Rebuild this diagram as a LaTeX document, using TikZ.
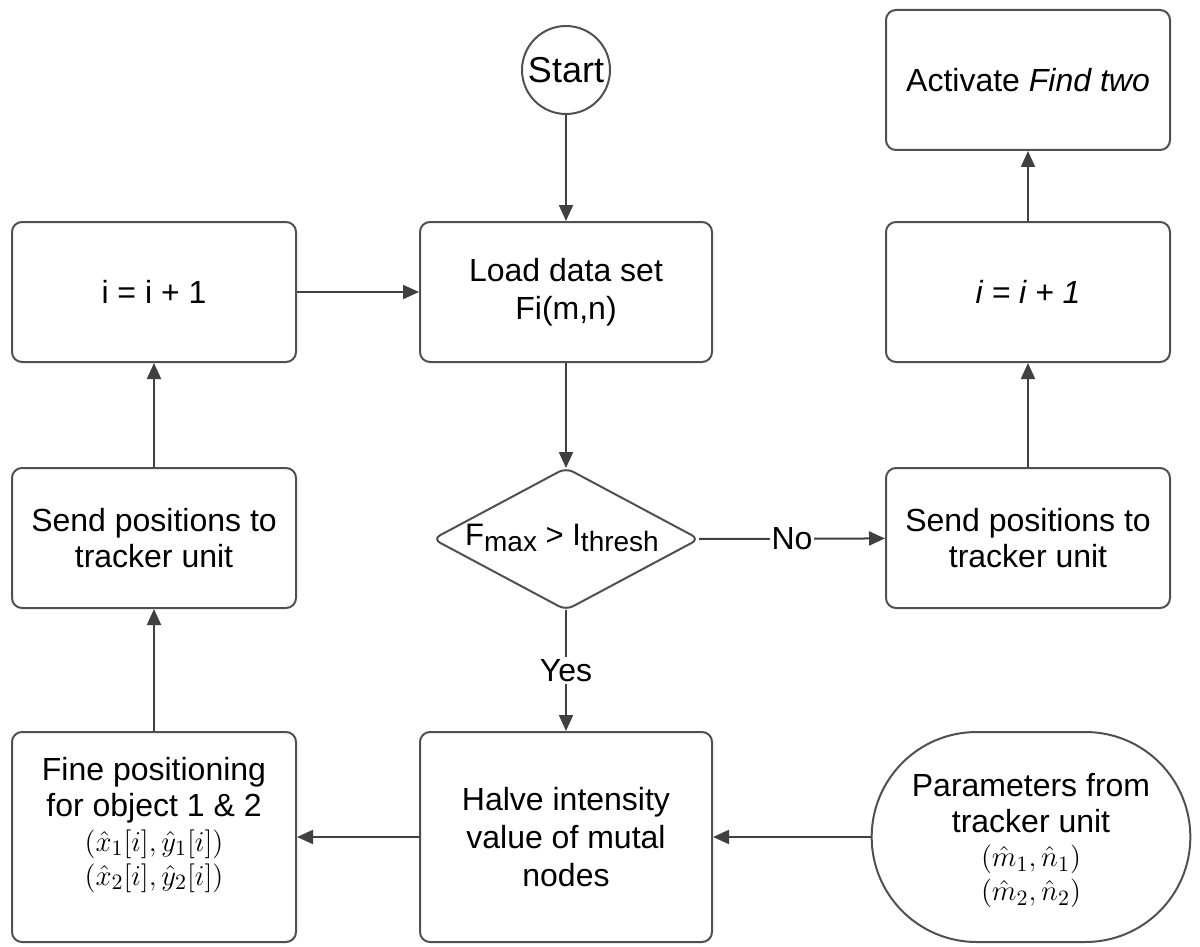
\documentclass[tikz,border=0pt]{standalone}
\usepackage{fontspec}
\setmainfont{Liberation Sans}
\usetikzlibrary{shapes.geometric,shapes.misc,arrows.meta}
\definecolor{edge}{HTML}{505050}
\definecolor{arr}{HTML}{404040}
\newcommand{\mfont}{\fontsize{15pt}{15pt}\selectfont}
\tikzset{
  box/.style={draw=edge, line width=1pt, rounded corners=5pt, fill=white,
    minimum width=142pt, minimum height=70pt, align=center, font=\fontsize{16pt}{18pt}\selectfont, inner sep=2pt},
  boxtext/.style={align=center, font=\fontsize{16pt}{18pt}\selectfont, inner sep=0pt},
  conn/.style={draw=arr, line width=1pt, -{Triangle[length=8pt,width=7pt]}},
  lbl/.style={fill=white, font=\fontsize{16pt}{18pt}\selectfont, inner sep=1pt}
}
\begin{document}
\begin{tikzpicture}[x=0.5pt,y=-0.5pt]
\useasboundingbox (0,0) rectangle (1200,947);
\node[circle, draw=edge, line width=1pt, minimum size=44pt, inner sep=0pt, font=\fontsize{18pt}{21pt}\selectfont] (start) at (566,70) {Start};
\node[box, minimum width=146pt] (load) at (566,292) {Load data set\\[1pt]Fi(m,n)};
\node[box] (il) at (154,292) {i = i + 1};
\node[box] (ir) at (1028,292) {\itshape i = i + 1};
\node[box] (act) at (1028,80) {Activate \textit{Find two}};
\node[box] (sl) at (154,538) {Send positions to\\tracker unit};
\node[box] (sr) at (1028,538) {Send positions to\\tracker unit};
% decision diamond
\coordinate (dtop) at (566,468);
\coordinate (dbot) at (566,610);
\coordinate (dleft) at (433,539);
\coordinate (dright) at (699,539);
\draw[draw=edge, line width=1pt, rounded corners=4pt, fill=white] (dtop) -- (dright) -- (dbot) -- (dleft) -- cycle;
\node[font=\fontsize{15.5pt}{18pt}\selectfont, inner sep=0pt] (dec) at (562,538) {F\raisebox{-0.35ex}{\fontsize{14pt}{16pt}\selectfont max} > I\raisebox{-0.35ex}{\fontsize{14pt}{16pt}\selectfont thresh}};
\node[box, minimum height=105pt] (fine) at (154,837) {};
\node[boxtext] (finetxt) at (154,825) {Fine positioning\\for object 1 \& 2\\[-0.5pt]{\mfont$(\hat{x}_1[i],\hat{y}_1[i])$}\\[-1pt]{\mfont$(\hat{x}_2[i],\hat{y}_2[i])$}};
\node[box, minimum width=146pt, minimum height=105pt] (halve) at (566,837) {Halve intensity\\[1pt]value of mutal\\[1pt]nodes};
\node[rounded rectangle, draw=edge, line width=1pt, minimum width=166pt, minimum height=105pt] (par) at (1031,837) {};
\node[boxtext] (partxt) at (1031,841) {Parameters from\\tracker unit\\[-1pt]{\mfont$(\hat{m}_1,\hat{n}_1)$}\\[-1pt]{\mfont$(\hat{m}_2,\hat{n}_2)$}};
\draw[conn] (start) -- (load);
\draw[conn] (load) -- (dtop);
\draw[conn] (dbot) -- node[lbl] {Yes} (halve);
\draw[conn] (dright) -- node[lbl] {No} (sr);
\draw[conn] (sr) -- (ir);
\draw[conn] (ir) -- (act);
\draw[conn] (par) -- (halve);
\draw[conn] (halve) -- (fine);
\draw[conn] (fine) -- (sl);
\draw[conn] (sl) -- (il);
\draw[conn] (il) -- (load);
\end{tikzpicture}
\end{document}
